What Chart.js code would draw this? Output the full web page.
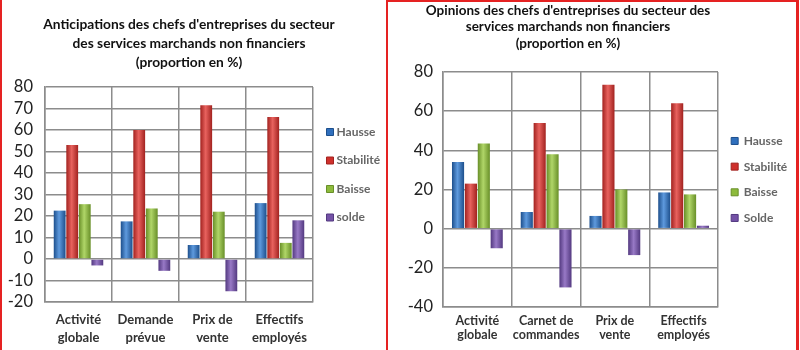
<!DOCTYPE html>
<html><head><meta charset="utf-8">
<script src="https://cdn.jsdelivr.net/npm/chart.js@4/dist/chart.umd.min.js"></script>
<style>
html,body{margin:0;padding:0;background:#fff;width:800px;height:350px;overflow:hidden;}
#left{position:absolute;left:0;top:0;width:386px;height:350px;border-left:2px solid #e52222;box-sizing:border-box;}
#right{position:absolute;left:386px;top:0;width:413px;height:350px;border:2px solid #e52222;border-right:3px solid #e52222;border-bottom:none;box-sizing:border-box;}
canvas{position:absolute;left:0;top:0;}
</style></head><body>
<div id="left"><canvas id="c1" width="384" height="350"></canvas></div>
<div id="right"><canvas id="c2" width="408" height="348"></canvas></div>
<script>
// ---- Left chart data ----
const leftTitle = ["Anticipations des chefs d'entreprises du secteur", "des services marchands non financiers", "(proportion en %)"];
const leftCategories = [["Activité","globale"],["Demande","prévue"],["Prix de","vente"],["Effectifs","employés"]];
const leftSeriesNames = ["Hausse","Stabilité","Baisse","solde"];
const leftHausse    = [22.5, 17.5, 6.5, 26];
const leftStabilite = [53, 60, 71.5, 66];
const leftBaisse    = [25.5, 23.5, 22, 7.5];
const leftSolde     = [-3, -5.5, -15, 18];
const leftTicks = {min:-20, max:80, step:10};

// ---- Right chart data ----
const rightTitle = ["Opinions des chefs d'entreprises du secteur des", "services marchands non financiers", "(proportion en %)"];
const rightCategories = [["Activité","globale"],["Carnet de","commandes"],["Prix de","vente"],["Effectifs","employés"]];
const rightSeriesNames = ["Hausse","Stabilité","Baisse","Solde"];
const rightHausse    = [34, 8.5, 6.5, 18.5];
const rightStabilite = [23, 54, 73.5, 64];
const rightBaisse    = [43.5, 38, 20, 17.5];
const rightSolde     = [-10, -30, -13.5, 1.5];
const rightTicks = {min:-40, max:80, step:20};

const palette = [
  {base:'#2f6fbd', light:'#5e9ade', dark:'#1d4f8c'},
  {base:'#cf302c', light:'#e8625e', dark:'#a2221f'},
  {base:'#8dbb3c', light:'#b0d668', dark:'#688f28'},
  {base:'#7452a6', light:'#9879c6', dark:'#533980'}
];
const CAT_PCT = 0.75, BAR_PCT = 0.94;

function barBg(i){
  const p = palette[i];
  return (ctx) => {
    const chart = ctx.chart, xs = chart.scales && chart.scales.x;
    if (!xs || ctx.type !== 'data') return p.base;
    const n = chart.data.labels.length;
    const catW = (xs.right - xs.left) / n;
    const center = xs.getPixelForValue(ctx.dataIndex);
    const slot = catW * CAT_PCT / 4;
    const bx = center + (ctx.datasetIndex - 1.5) * slot;
    const half = slot * BAR_PCT / 2;
    if (!isFinite(bx) || !isFinite(half) || half <= 0) return p.base;
    const g = chart.ctx.createLinearGradient(bx - half, 0, bx + half, 0);
    g.addColorStop(0, p.dark);
    g.addColorStop(0.45, p.light);
    g.addColorStop(1, p.dark);
    return g;
  };
}

// Let the legend draw its text past its (narrowed) box so the title can stay centred like the original
const widenLegend = {
  id: 'widenLegend',
  afterLayout(chart) {
    const lg = chart.legend;
    if (lg) { lg.right = chart.width; lg.width = lg.right - lg.left; }
  }
};

function makeChart(id, cfg){
  const datasets = cfg.series.map((vals, i) => ({
    label: cfg.names[i],
    data: vals,
    backgroundColor: barBg(i),
    borderWidth: 0,
    categoryPercentage: CAT_PCT,
    barPercentage: BAR_PCT
  }));
  return new Chart(document.getElementById(id), {
    type: 'bar',
    data: {labels: cfg.categories, datasets},
    plugins: [widenLegend],
    options: {
      responsive: false,
      animation: false,
      layout: {padding: cfg.layoutPad},
      plugins: {
        title: {
          display: true,
          text: cfg.title,
          color: '#111',
          font: {family: 'Lato', weight: 'bold', size: cfg.titleSize, lineHeight: cfg.titleLH},
          padding: cfg.titlePad
        },
        legend: {
          position: 'right',
          align: 'start',
          maxWidth: cfg.legendMaxW,
          title: {display: true, text: '', padding: {top: cfg.legendOffset, bottom: 0}, font:{size:1, lineHeight:1}},
          labels: {
            usePointStyle: true,
            boxWidth: cfg.legendBoxW, boxHeight: 7,
            padding: cfg.legendPad,
            color: '#333',
            font: {family: 'Lato', weight: 'bold', size: cfg.legendSize},
            generateLabels: (chart) => chart.data.datasets.map((d, i) => ({
              text: d.label, fillStyle: palette[i].base, strokeStyle: palette[i].dark,
              lineWidth: 1, hidden: false, datasetIndex: i, pointStyle: 'rect'
            }))
          }
        },
        tooltip: {enabled: false}
      },
      scales: {
        x: {
          afterFit: (s) => { s.height = cfg.xHeight; },
          grid: {color: '#8c8c8c', lineWidth: 1.5, drawTicks: false, offset: true},
          border: {color: '#8c8c8c', width: 1.5},
          ticks: {color: '#333', padding: cfg.xPad, maxRotation: 0, autoSkip: false,
            font: {family: 'Lato', weight: 'bold', size: cfg.xSize, lineHeight: cfg.xLH}}
        },
        y: {
          min: cfg.ticks.min, max: cfg.ticks.max,
          afterFit: (s) => { s.width = cfg.yWidth; },
          grid: {color: '#8c8c8c', lineWidth: 1.5, drawTicks: false},
          border: {color: '#8c8c8c', width: 1.5},
          ticks: {stepSize: cfg.ticks.step, autoSkip: false, color: '#222', padding: cfg.yPad,
            font: {family: 'Lato', size: cfg.ySize, lineHeight: 1}}
        }
      }
    }
  });
}

makeChart('c1', {
  title: leftTitle, categories: leftCategories, names: leftSeriesNames,
  series: [leftHausse, leftStabilite, leftBaisse, leftSolde], ticks: leftTicks,
  titleSize: 13.75, titleLH: 19/13.75, titlePad: {top: 15.5, bottom: 14.5},
  legendOffset: 108.5, legendPad: 16.5, legendSize: 12, legendBoxW: 1, legendMaxW: 63,
  layoutPad: {left: 0, right: 10, top: 0, bottom: 0},
  xHeight: 48, xPad: 9, xSize: 13, xLH: 18/13, yWidth: 43, yPad: 12, ySize: 16.5
});
makeChart('c2', {
  title: rightTitle, categories: rightCategories, names: rightSeriesNames,
  series: [rightHausse, rightStabilite, rightBaisse, rightSolde], ticks: rightTicks,
  titleSize: 13.5, titleLH: 16.5/13.5, titlePad: {top: 0, bottom: 20.5},
  legendOffset: 118.3, legendPad: 13.67, legendSize: 12, legendBoxW: 6, legendMaxW: 30,
  layoutPad: {left: 0, right: 48, top: 0, bottom: 0},
  xHeight: 43, xPad: 7, xSize: 12.5, xLH: 14/12.5, yWidth: 55, yPad: 10, ySize: 16.5
});
</script>
</body></html>
